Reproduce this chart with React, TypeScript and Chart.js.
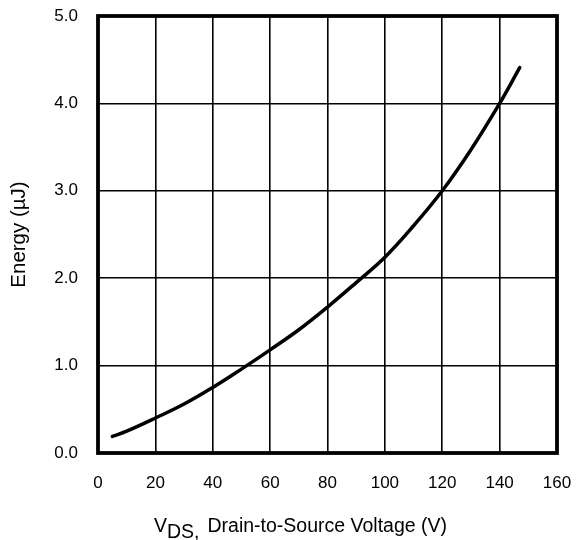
import React, { useEffect, useRef } from "react";
import { Chart, registerables } from "chart.js";

Chart.register(...registerables);

const vdsValues = [5, 10, 20, 30, 40, 50, 60, 70, 80, 90, 100, 110, 120, 130, 140, 147];
const energyValues = [0.19, 0.25, 0.40, 0.56, 0.75, 0.96, 1.18, 1.41, 1.67, 1.95, 2.24, 2.60, 3.0, 3.47, 4.0, 4.41];

const xTickValues = [0, 20, 40, 60, 80, 100, 120, 140, 160];
const yTickValues = [0, 1, 2, 3, 4, 5];

const yTitle = "Energy (µJ)";
const xTitleMain = "V";
const xTitleSub = "DS,";
const xTitleRest = "Drain-to-Source Voltage (V)";

const FONT = "'Liberation Sans', Arial, Helvetica, sans-serif";

export default function App() {
  const ref = useRef<HTMLCanvasElement | null>(null);

  useEffect(() => {
    document.body.style.margin = "0";
    const canvas = ref.current;
    if (!canvas) return;

    const framePlugin = {
      id: "frameAndTitle",
      afterDraw(chart: any) {
        const { ctx, chartArea } = chart;
        ctx.save();
        ctx.strokeStyle = "#000";
        ctx.lineWidth = 3.8;
        ctx.strokeRect(
          chartArea.left,
          chartArea.top,
          chartArea.right - chartArea.left,
          chartArea.bottom - chartArea.top
        );
        // x-axis title with subscript
        ctx.fillStyle = "#000";
        ctx.textBaseline = "alphabetic";
        ctx.textAlign = "left";
        ctx.font = `19.5px ${FONT}`;
        let x = chartArea.left + 56;
        const baseY = 532;
        ctx.fillText(xTitleMain, x, baseY);
        x += ctx.measureText(xTitleMain).width;
        ctx.fillText(xTitleSub, x, baseY + 6);
        x += ctx.measureText(xTitleSub).width + 8;
        ctx.fillText(xTitleRest, x, baseY);
        ctx.restore();
      },
    };

    const chart = new Chart(canvas, {
      type: "line",
      data: {
        datasets: [
          {
            data: vdsValues.map((v, i) => ({ x: v, y: energyValues[i] })),
            borderColor: "#000",
            borderWidth: 3.5,
            pointRadius: 0,
            fill: false,
            tension: 0.4,
            borderCapStyle: "round",
          },
        ],
      },
      options: {
        responsive: false,
        animation: false,
        layout: { padding: { top: 16, right: 19, left: 0, bottom: 0 } },
        plugins: {
          legend: { display: false },
          tooltip: { enabled: false },
        },
        scales: {
          x: {
            type: "linear",
            min: 0,
            max: 160,
            afterBuildTicks: (scale: any) => {
              scale.ticks = xTickValues.map((v) => ({ value: v }));
            },
            afterFit: (scale: any) => {
              scale.height = 87;
              scale.paddingLeft = 0;
              scale.paddingRight = 0;
            },
            grid: { color: "#000", lineWidth: 1.6, drawTicks: false },
            border: { display: false },
            ticks: {
              padding: 20,
              color: "#000",
              font: { family: FONT, size: 17 },
              callback: (v: any) => String(v),
              maxRotation: 0,
            },
          },
          y: {
            type: "linear",
            min: 0,
            max: 5,
            afterBuildTicks: (scale: any) => {
              scale.ticks = yTickValues.map((v) => ({ value: v }));
            },
            afterFit: (scale: any) => {
              scale.width = 98;
              scale.paddingTop = 0;
              scale.paddingBottom = 0;
            },
            grid: { color: "#000", lineWidth: 1.6, drawTicks: false },
            border: { display: false },
            title: {
              display: true,
              text: yTitle,
              color: "#000",
              font: { family: FONT, size: 20.5 },
              padding: { top: 7, bottom: 0 },
            },
            ticks: {
              padding: 20,
              color: "#000",
              font: { family: FONT, size: 17 },
              callback: (v: any) => Number(v).toFixed(1),
            },
          },
        },
      },
      plugins: [framePlugin],
    } as any);

    return () => chart.destroy();
  }, []);

  return (
    <div style={{ width: 576, height: 540, background: "#fff" }}>
      <canvas ref={ref} width={576} height={540} style={{ width: 576, height: 540, display: "block" }} />
    </div>
  );
}
